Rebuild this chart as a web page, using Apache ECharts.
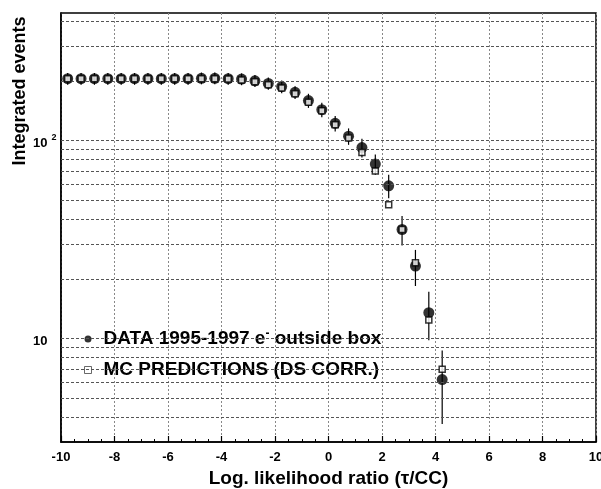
<!DOCTYPE html>
<html>
<head>
<meta charset="utf-8">
<script src="https://cdn.jsdelivr.net/npm/echarts@6/dist/echarts.min.js"></script>
<style>
  html, body { margin: 0; padding: 0; background: #fff; }
  #chart { width: 601px; height: 489px; }
</style>
</head>
<body>
<div id="chart"></div>
<script>
// Bin centres of the log-likelihood ratio (tau / CC)
const ratioBins = [-9.75, -9.25, -8.75, -8.25, -7.75, -7.25, -6.75, -6.25, -5.75, -5.25,
                   -4.75, -4.25, -3.75, -3.25, -2.75, -2.25, -1.75, -1.25, -0.75, -0.25,
                    0.25,  0.75,  1.25,  1.75,  2.25,  2.75,  3.25,  3.75,  4.25];

// Integrated events, data 1995-1997 (e- outside box)
const dataEvents = [205, 205, 205, 205, 205, 205, 205, 205, 205, 205,
                    206, 206, 205, 204, 200, 194, 187, 175, 159, 143,
                    122, 105, 92, 76, 59, 35.5, 23.2, 13.5, 6.2];
// Lower / upper ends of the data error bars
const dataLow  = [191, 191, 191, 191, 191, 191, 191, 191, 191, 191,
                  192, 192, 191, 190, 186, 180, 173, 162, 146, 131,
                  111, 95, 82, 67, 51, 29.5, 18.4, 9.8, 3.7];
const dataHigh = [219, 219, 219, 219, 219, 219, 219, 219, 219, 219,
                  220, 220, 219, 218, 214, 208, 201, 188, 172, 155,
                  133, 115, 102, 85, 67, 41.5, 28, 17.2, 8.7];

// Integrated events, MC predictions (DS corrected)
const mcEvents = [205, 205, 205, 205, 205, 205, 205, 205, 205, 205,
                  205, 205, 204, 202, 198, 191, 184, 172, 156, 141,
                  120, 103, 87, 70, 47.4, 35.5, 24.1, 12.4, 7.0];

// Horizontal grid values of the logarithmic axis
const yGridValues = [4, 5, 6, 7, 8, 9, 10, 20, 30, 40, 50, 60, 70, 80, 90, 100, 200, 300, 400];

const dataName = 'DATA 1995-1997 e- outside box';
const mcName = 'MC PREDICTIONS (DS CORR.)';

const FONT = '"Liberation Sans", Arial, Helvetica, sans-serif';

const chart = echarts.init(document.getElementById('chart'), null, { renderer: 'canvas' });

const option = {
  backgroundColor: '#fff',
  animation: false,
  grid: {
    left: 61, top: 13, right: 5, bottom: 47,
    outerBoundsMode: 'none',
    containLabel: false,
    show: true, borderColor: '#000', borderWidth: 1.5, backgroundColor: 'transparent'
  },
  xAxis: {
    type: 'value',
    min: -10, max: 10, interval: 2,
    name: 'Log. likelihood ratio (\u03c4/CC)',
    nameLocation: 'middle',
    nameGap: 20,
    nameTextStyle: { fontFamily: FONT, fontWeight: 'bold', fontSize: 19, color: '#000' },
    axisLine: { show: true, onZero: false, lineStyle: { color: '#000', width: 1.5 } },
    axisTick: { show: true, inside: true, length: 6, lineStyle: { color: '#000', width: 1.2 } },
    minorTick: { show: true, splitNumber: 4, length: 3, lineStyle: { color: '#000', width: 1 } },
    axisLabel: { fontFamily: FONT, fontWeight: 'bold', fontSize: 13, color: '#000', margin: 9 },
    splitLine: { show: true, lineStyle: { color: '#888', type: [2, 2], width: 1 } }
  },
  yAxis: {
    type: 'log',
    logBase: 10,
    min: 3, max: 440,
    axisLine: { show: true, onZero: false, lineStyle: { color: '#000', width: 1.5 } },
    axisTick: { show: false },
    splitLine: { show: false },
    axisLabel: {
      showMinLabel: false, showMaxLabel: false,
      margin: 28, align: 'left',
      fontFamily: FONT, fontWeight: 'bold', fontSize: 13, color: '#000',
      formatter: function (v) {
        if (Math.abs(v - 100) < 1e-6) return '{m|10}{s|2}';
        if (Math.abs(v - 10) < 1e-6) return '{m|10}';
        return '';
      },
      rich: {
        m: { fontFamily: FONT, fontWeight: 'bold', fontSize: 13, color: '#000', padding: [5, 0, 0, 0] },
        s: { fontFamily: FONT, fontWeight: 'bold', fontSize: 9, color: '#000', padding: [0, 0, 6, 4] }
      }
    }
  },
  legend: {
    data: [
      { name: dataName, icon: 'circle' },
      { name: mcName, icon: 'rect', itemStyle: { color: '#fff', borderColor: '#444', borderWidth: 1 } }
    ],
    orient: 'vertical',
    left: 84, top: 328,
    padding: 0,
    itemWidth: 7, itemHeight: 7,
    itemGap: 10,
    formatter: function (n) {
      return n === dataName ? 'DATA 1995-1997 e{s|-} outside box' : n;
    },
    textStyle: {
      fontFamily: FONT, fontWeight: 'bold', fontSize: 19, color: '#000',
      lineHeight: 20, padding: [0, 0, 0, 7],
      rich: {
        s: { fontFamily: FONT, fontWeight: 'bold', fontSize: 12, color: '#000', lineHeight: 20, padding: [0, 0, 10, 0] }
      }
    }
  },
  graphic: [{
    type: 'text',
    x: 20, y: 91,
    rotation: Math.PI / 2,
    style: {
      text: 'Integrated events',
      font: 'bold 18px ' + FONT,
      fill: '#000',
      align: 'center',
      verticalAlign: 'middle'
    }
  }],
  series: [
    {
      // horizontal grid of the log axis
      name: 'grid',
      type: 'line',
      data: [],
      silent: true,
      markLine: {
        silent: true,
        symbol: 'none',
        label: { show: false },
        lineStyle: { color: '#555', type: [3, 2], width: 1 },
        data: yGridValues.map(v => ({ yAxis: v }))
      }
    },
    {
      name: 'errors',
      type: 'custom',
      silent: true,
      z: 3,
      data: ratioBins.map((x, i) => [x, dataLow[i], dataHigh[i]]),
      encode: { x: 0, y: [1, 2] },
      renderItem: function (params, api) {
        const x = api.value(0);
        const lo = api.coord([x, api.value(1)]);
        const hi = api.coord([x, api.value(2)]);
        return {
          type: 'line',
          shape: { x1: lo[0], y1: lo[1], x2: hi[0], y2: hi[1] },
          style: { stroke: '#000', lineWidth: 1.2 }
        };
      }
    },
    {
      name: dataName,
      type: 'scatter',
      z: 4,
      symbol: 'circle',
      symbolSize: 11,
      itemStyle: { color: '#000' },
      data: ratioBins.map((x, i) => [x, dataEvents[i]])
    },
    {
      name: mcName,
      type: 'scatter',
      z: 5,
      symbol: 'rect',
      symbolSize: 6,
      itemStyle: { color: '#fff', borderColor: '#000', borderWidth: 1.5 },
      data: ratioBins.map((x, i) => [x, mcEvents[i]])
    }
  ]
};

chart.setOption(option);
</script>
</body>
</html>
